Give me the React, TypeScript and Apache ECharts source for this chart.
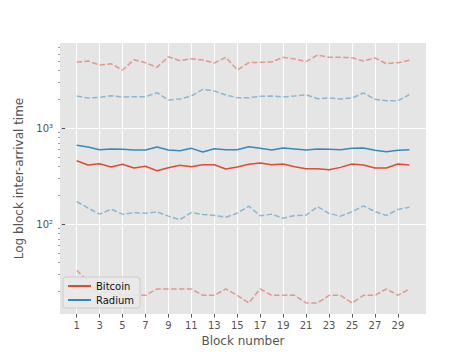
import React, { useEffect, useRef } from "react";
import * as echarts from "echarts";

const blocks = [1, 2, 3, 4, 5, 6, 7, 8, 9, 10, 11, 12, 13, 14, 15, 16, 17, 18, 19, 20, 21, 22, 23, 24, 25, 26, 27, 28, 29, 30];
const xTicks = [1, 3, 5, 7, 9, 11, 13, 15, 17, 19, 21, 23, 25, 27, 29];
const yMajor = [100, 1000];
const yMinor = [20, 30, 40, 50, 60, 70, 80, 90, 200, 300, 400, 500, 600, 700, 800, 900, 2000, 3000, 4000, 5000, 6000, 7000];

const btcMean = [458, 414, 427, 394, 421, 385, 401, 361, 388, 411, 397, 416, 416, 376, 394, 421, 434, 416, 424, 397, 378, 378, 369, 391, 424, 414, 385, 385, 424, 414];
const btcHigh = [4893, 5047, 4582, 4730, 4065, 5213, 4845, 4334, 5596, 5083, 5333, 5176, 4809, 5521, 4065, 4845, 4893, 4932, 5521, 5295, 4966, 5834, 5521, 5521, 5470, 5047, 5433, 4730, 4845, 5140];
const btcLow = [33, 25, 18, 21, 18, 18, 18, 21, 21, 21, 21, 18, 18, 21, 18, 15, 21, 18, 18, 18, 15, 15, 18, 18, 15, 18, 18, 21, 18, 21];

const radMean = [664, 638, 598, 608, 603, 593, 593, 638, 593, 583, 618, 565, 612, 598, 598, 642, 618, 593, 622, 608, 593, 608, 603, 598, 618, 622, 589, 569, 589, 598];
const radHigh = [2175, 2073, 2108, 2191, 2123, 2138, 2138, 2355, 1975, 2023, 2175, 2556, 2454, 2229, 2088, 2088, 2159, 2175, 2123, 2175, 2245, 2038, 2073, 2023, 2073, 2338, 2009, 1942, 1942, 2245];
const radLow = [172, 147, 127, 143, 127, 131, 130, 134, 121, 111, 132, 126, 123, 118, 130, 154, 122, 127, 115, 123, 124, 152, 129, 121, 134, 155, 135, 123, 142, 150];

const RED = "#E24A33";
const BLUE = "#348ABD";
const Y_MIN = 11.5;
const Y_MAX = 7785;

const pairs = (vals: number[]) => blocks.map((b, i) => [b, vals[i]]);

function lineSeries(name: string, vals: number[], color: string, dashed: boolean) {
  return {
    name,
    type: "line",
    data: pairs(vals),
    showSymbol: false,
    symbol: "none",
    silent: true,
    z: dashed ? 2 : 3,
    lineStyle: {
      color,
      width: 1.5,
      type: dashed ? [5.5, 2.4] : "solid",
      opacity: dashed ? 0.5 : 1,
    },
    itemStyle: { color },
    emphasis: { disabled: true },
  };
}

export default function App() {
  const ref = useRef<HTMLDivElement>(null);
  useEffect(() => {
    if (!ref.current) return;
    const chart = echarts.init(ref.current, undefined, { renderer: "svg" });
    const option: any = {
      animation: false,
      backgroundColor: "#ffffff",
      textStyle: { fontFamily: "DejaVu Sans" },
      grid: {
        left: 60,
        right: 48,
        top: 43,
        bottom: 40,
        show: true,
        backgroundColor: "#E5E5E5",
        borderWidth: 0,
      },
      legend: {
        data: [
          { name: "Bitcoin", icon: "rect" },
          { name: "Radium", icon: "rect" },
        ],
        orient: "vertical",
        left: 63,
        top: 277,
        itemWidth: 23,
        itemHeight: 2,
        itemGap: 4,
        padding: [4, 6, 3, 5],
        backgroundColor: "rgba(233,233,233,0.9)",
        borderColor: "#cccccc",
        borderWidth: 1,
        borderRadius: 3,
        textStyle: { fontSize: 10, color: "#111111", fontFamily: "DejaVu Sans" },
      },
      xAxis: {
        type: "value",
        min: -0.45,
        max: 31.45,
        name: "Block number",
        nameLocation: "middle",
        nameGap: 21,
        nameTextStyle: { fontSize: 12, color: "#555555", fontFamily: "DejaVu Sans" },
        axisLine: { show: false },
        axisTick: { show: true, customValues: xTicks, length: 3.5, lineStyle: { color: "#555555", width: 1 } },
        axisLabel: { customValues: xTicks, fontSize: 10, color: "#555555", margin: 6, fontFamily: "DejaVu Sans" },
        splitLine: { show: true, lineStyle: { color: "#ffffff", width: 1 } },
      },
      yAxis: [
        {
          type: "log",
          logBase: 10,
          min: Y_MIN,
          max: Y_MAX,
          position: "left",
          name: "Log block inter-arrival time",
          nameLocation: "middle",
          nameGap: 25,
          nameTextStyle: { fontSize: 12, color: "#555555", fontFamily: "DejaVu Sans" },
          axisLine: { show: false },
          axisTick: { show: true, customValues: yMajor, length: 3.5, lineStyle: { color: "#555555", width: 1 } },
          axisLabel: {
            customValues: yMajor,
            fontSize: 10,
            color: "#555555",
            margin: 7,
            fontFamily: "DejaVu Sans",
            formatter: (v: number) => (Math.abs(v - 100) < 1 ? "10²" : Math.abs(v - 1000) < 1 ? "10³" : ""),
          },
          splitLine: { show: true, lineStyle: { color: "#ffffff", width: 1 } },
        },
        {
          type: "log",
          logBase: 10,
          min: Y_MIN,
          max: Y_MAX,
          position: "left",
          axisLine: { show: false },
          axisTick: { show: true, customValues: yMinor, length: 2, lineStyle: { color: "#555555", width: 0.6 } },
          axisLabel: { show: false },
          splitLine: { show: false },
        },
      ],
      series: [
        lineSeries("Bitcoin", btcMean, RED, false),
        lineSeries("Bitcoin high", btcHigh, RED, true),
        lineSeries("Bitcoin low", btcLow, RED, true),
        lineSeries("Radium", radMean, BLUE, false),
        lineSeries("Radium high", radHigh, BLUE, true),
        lineSeries("Radium low", radLow, BLUE, true),
      ],
    };
    chart.setOption(option);
    return () => chart.dispose();
  }, []);
  return <div ref={ref} style={{ width: 474, height: 354, position: "absolute", left: 0, top: 0 }} />;
}
